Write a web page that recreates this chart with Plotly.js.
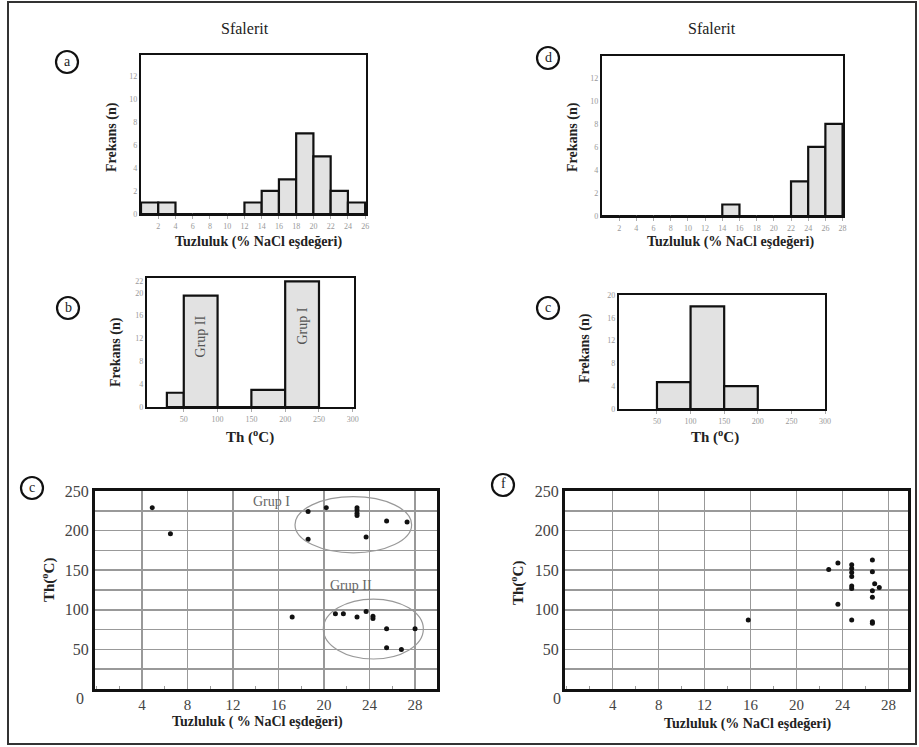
<!DOCTYPE html>
<html><head><meta charset="utf-8">
<script src="https://cdn.plot.ly/plotly-3.0.1.min.js"></script>
<style>body{margin:0;background:#fff}#chart{width:919px;height:747px}</style>
</head><body><div id="chart"></div>
<script>
// ---- data ----
// (a) salinity histogram, sphalerite group 1 (bin left edges, width 2)
const salBinsA = [0,2,4,6,8,10,12,14,16,18,20,22,24];
const salCountsA = [1,1,0,0,0,0,1,2,3,7,5,2,1];
// (d) salinity histogram, sphalerite group 2
const salBinsD = [0,2,4,6,8,10,12,14,16,18,20,22,24,26];
const salCountsD = [0,0,0,0,0,0,0,1,0,0,0,3,6,8];
// (b) homogenization temperature histogram
const thEdgesB = [25,50,100,150,200,250];
const thCountsB = [2.5,19.5,0,3,22];
// (e) homogenization temperature histogram
const thEdgesE = [50,100,150,200];
const thCountsE = [4.7,18,4];
// (c) scatter
const salC = [4.9,6.5,18.6,18.6,20.2,22.9,22.9,22.9,22.9,23.7,25.5,27.3,17.2,21.0,21.7,22.9,23.7,24.3,24.3,25.5,25.5,26.8,28.0];
const thC  = [229,196,224,189,229,229,226,222,219,192,212,211,91,95,95,91,98,92,89,76,52,50,76];
// (f) scatter
const salF = [15.8,22.8,23.6,23.6,24.8,24.8,24.8,24.8,24.8,24.8,24.8,26.6,26.6,26.6,26.6,26.6,26.6,26.8,27.2];
const thF  = [87,151,159,107,157,152,147,142,130,127,87,163,148,124,116,85,83,133,128];
// labels
const salTicksA = [2,4,6,8,10,12,14,16,18,20,22,24,26];
const salTicksD = [2,4,6,8,10,12,14,16,18,20,22,24,26,28];
const thTicks = [50,100,150,200,250,300];
const freqTicksA = [0,2,4,6,8,10,12];
const freqTicksB = [0,4,8,12,16,20,22];
const freqTicksE = [0,4,8,12,16,20];
const salScTicks = [4,8,12,16,20,24,28];
const thScTicks = [50,100,150,200,250];

// ---- helpers ----
const W = 919, H = 747;
const px = x => x / W, py = y => 1 - y / H;
const SERIF = 'Liberation Serif, Times New Roman, serif';
function binBars(edgesOrStarts, counts, width, xa, ya){
  let xs=[], ws=[];
  if (width){ edgesOrStarts.forEach(s=>{xs.push(s+width/2); ws.push(width);}); }
  else { for(let i=0;i<counts.length;i++){ const a=edgesOrStarts[i], b=edgesOrStarts[i+1]; xs.push((a+b)/2); ws.push(b-a);} }
  return {type:'bar', x:xs, y:counts, width:ws, xaxis:xa, yaxis:ya,
    marker:{color:'#e2e2e2', line:{color:'#111', width:2.2}}, hoverinfo:'skip', showlegend:false};
}
function histX(dom, range, ticks, anchor){
  return {domain:[px(dom[0]),px(dom[1])], anchor:anchor, range:range, tickvals:ticks, showline:true, mirror:true,
    linecolor:'#111', linewidth:2.2, showgrid:false, zeroline:false, ticks:'outside', ticklen:3, tickcolor:'#aaa',
    tickfont:{family:SERIF, size:8, color:'#999'}, fixedrange:true};
}
function histY(dom, range, ticks, anchor){
  return {domain:[py(dom[1]),py(dom[0])], anchor:anchor, range:range, tickvals:ticks, showline:true, mirror:true,
    linecolor:'#111', linewidth:2.2, showgrid:false, zeroline:false, ticks:'', 
    tickfont:{family:SERIF, size:8, color:'#999'}, fixedrange:true};
}
function scX(dom, range, anchor){
  return {domain:[px(dom[0]),px(dom[1])], anchor:anchor, range:range, tickvals:salScTicks, showline:true, mirror:true,
    linecolor:'#111', linewidth:3, showgrid:true, gridcolor:'#999', gridwidth:1.5, zeroline:false,
    ticks:'', tickfont:{family:SERIF, size:15, color:'#444'},
    minor:{dtick:2, tick0:0, ticks:'inside', ticklen:3, tickcolor:'#999', showgrid:false}, fixedrange:true};
}
function scY(dom, anchor){
  return {domain:[py(dom[1]),py(dom[0])], anchor:anchor, range:[0,250], tickvals:thScTicks, showline:true, mirror:true,
    linecolor:'#111', linewidth:3, showgrid:true, gridcolor:'#999', gridwidth:1.5, zeroline:false,
    ticks:'', tickfont:{family:SERIF, size:16, color:'#444'},
    minor:{dtick:25, tick0:0, showgrid:true, gridcolor:'#999', gridwidth:1.5}, fixedrange:true};
}
function ann(text, x, y, size, opts){
  return Object.assign({text:text, xref:'paper', yref:'paper', x:px(x), y:py(y), showarrow:false,
    xanchor:'center', yanchor:'middle', font:{family:SERIF, size:size, color:'#222'}}, opts||{});
}
function circ(x, y, r){
  return {type:'circle', xref:'paper', yref:'paper', x0:px(x-r), x1:px(x+r), y0:py(y+r), y1:py(y-r),
    line:{color:'#111', width:2.2}};
}

const traces = [
  binBars(salBinsA, salCountsA, 2, 'x', 'y'),
  binBars(salBinsD, salCountsD, 2, 'x2', 'y2'),
  binBars(thEdgesB, thCountsB, null, 'x3', 'y3'),
  binBars(thEdgesE, thCountsE, null, 'x4', 'y4'),
  {type:'scatter', mode:'markers', x:salC, y:thC, xaxis:'x5', yaxis:'y5',
    marker:{color:'#111', size:5}, hoverinfo:'skip', showlegend:false},
  {type:'scatter', mode:'markers', x:salF, y:thF, xaxis:'x6', yaxis:'y6',
    marker:{color:'#111', size:5}, hoverinfo:'skip', showlegend:false}
];

const bold = s => '<b>'+s+'</b>';
const layout = {
  width:W, height:H, margin:{l:0,r:0,t:0,b:0}, paper_bgcolor:'#fff', plot_bgcolor:'#fff',
  bargap:0, showlegend:false,
  xaxis: histX([141,366],[0,26.1],salTicksA,'y'), yaxis: histY([55,214],[0,13.8],freqTicksA,'x'),
  xaxis2: histX([602,843],[0,28.05],salTicksD,'y2'), yaxis2: histY([56,216],[0,13.9],freqTicksA,'x2'),
  xaxis3: histX([147,354],[-4.4,301.8],thTicks,'y3'), yaxis3: histY([278,407],[0,22.6],freqTicksB,'x3'),
  xaxis4: histX([619,825],[-6.5,300],thTicks,'y4'), yaxis4: histY([295,409],[0,20],freqTicksE,'x4'),
  xaxis5: scX([95,437],[-0.13,29.93],'y5'), yaxis5: scY([491,689],'x5'),
  xaxis6: scX([565,908],[-0.15,29.7],'y6'), yaxis6: scY([491,689],'x6'),
  shapes:[
    {type:'rect', xref:'paper', yref:'paper', x0:px(8), x1:px(916), y0:py(744), y1:py(2), line:{color:'#333', width:2}},
    circ(67,62,11), circ(548,58,11), circ(68,308,11), circ(548,308,11), circ(32,488,11), circ(503,485,11),
    {type:'circle', xref:'x5', yref:'y5', x0:17.45, x1:27.7, y0:172, y1:242.8, line:{color:'#999', width:1.2}},
    {type:'circle', xref:'x5', yref:'y5', x0:19.94, x1:28.73, y0:37.9, y1:113.6, line:{color:'#999', width:1.2}}
  ],
  annotations:[
    ann('Sfalerit', 245, 28, 16), ann('Sfalerit', 712, 28, 16),
    ann('a', 67, 61, 14), ann('d', 548, 57, 14), ann('b', 68, 307, 14), ann('c', 548, 307, 14),
    ann('c', 32, 487, 14), ann('f', 503, 484, 14),
    ann(bold('Tuzluluk (% NaCl eşdeğeri)'), 258, 242, 14),
    ann(bold('Frekans (n)'), 112, 137, 14, {textangle:-90}),
    ann(bold('Tuzluluk (% NaCl eşdeğeri)'), 730, 242, 14),
    ann(bold('Frekans (n)'), 573, 137, 14, {textangle:-90}),
    ann(bold('Frekans (n)'), 116, 352, 14, {textangle:-90}),
    ann(bold('Frekans (n)'), 585, 348, 14, {textangle:-90}),
    ann(bold('Th (<sup>o</sup>C)'), 250, 437, 15),
    ann(bold('Th (<sup>o</sup>C)'), 715, 437, 15),
    ann('Grup II', 75, 12.3, 14, {xref:'x3', yref:'y3', x:75, y:12.3, textangle:-90, font:{family:SERIF, size:14, color:'#555'}}),
    ann('Grup I', 225, 14.1, 14, {xref:'x3', yref:'y3', x:225, y:14.1, textangle:-90, font:{family:SERIF, size:14, color:'#555'}}),
    ann(bold('Th(<sup>o</sup>C)'), 48, 580, 15, {textangle:-90}),
    ann(bold('Th(<sup>o</sup>C)'), 517, 583, 15, {textangle:-90}),
    ann(bold('Tuzluluk ( % NaCl eşdeğeri)'), 257, 722, 14),
    ann(bold('Tuzluluk (% NaCl eşdeğeri)'), 747, 724, 14),
    ann('0', 80, 698, 16, {font:{family:SERIF, size:16, color:'#444'}}),
    ann('0', 557, 698, 16, {font:{family:SERIF, size:16, color:'#444'}}),
    ann('Grup I', 0, 0, 14, {xref:'x5', yref:'y5', x:15.4, y:236.5, font:{family:SERIF, size:14, color:'#666'}}),
    ann('Grup II', 0, 0, 14, {xref:'x5', yref:'y5', x:22.4, y:131.3, font:{family:SERIF, size:14, color:'#666'}})
  ]
};
Plotly.newPlot('chart', traces, layout, {staticPlot:true, displayModeBar:false});
</script></body></html>
